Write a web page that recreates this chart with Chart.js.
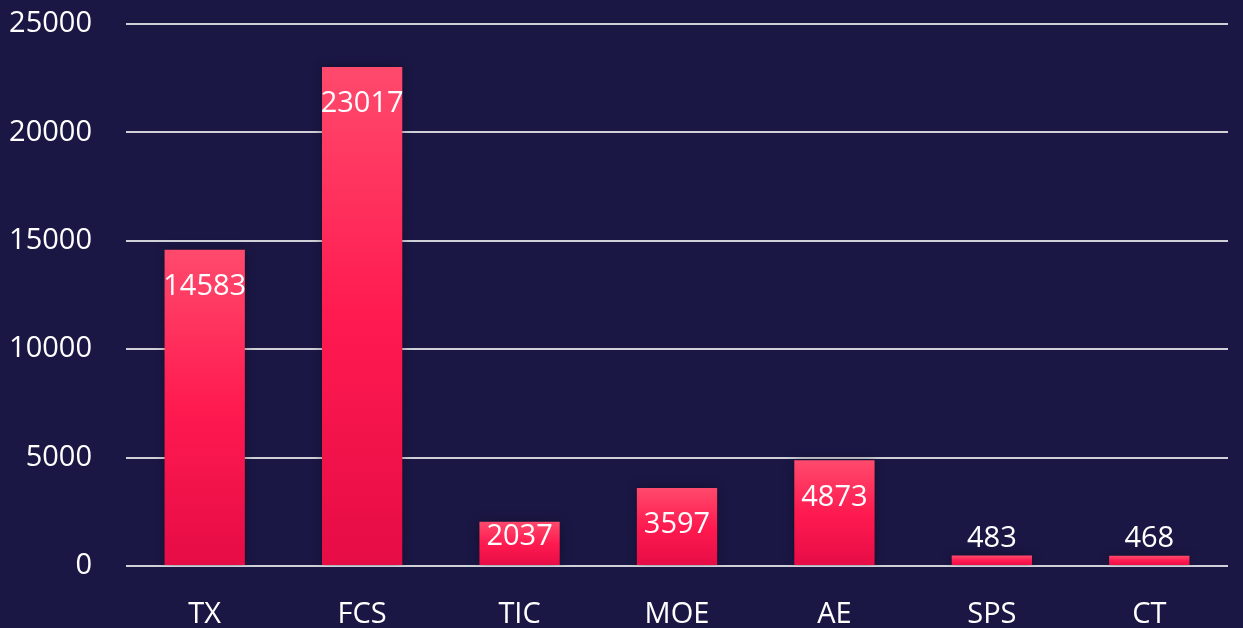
<!DOCTYPE html>
<html lang="en">
<head>
    <meta charset="UTF-8">
    <title>Bar chart</title>
    <style>
        html, body {
            margin: 0;
            padding: 0;
            overflow: hidden;
            background-color: #1b1745;
        }

        .chart-box {
            position: relative;
            width: 1243px;
            height: 628px;
        }
    </style>
</head>
<body>

<div class="chart-box">
    <canvas id="barChart"></canvas>
</div>

<script src="https://cdn.jsdelivr.net/npm/chart.js"></script>
<script>
    const categories = ['TX', 'FCS', 'TIC', 'MOE', 'AE', 'SPS', 'CT'];
    const counts = [14583, 23017, 2037, 3597, 4873, 483, 468];
    const yTicks = [0, 5000, 10000, 15000, 20000, 25000];

    const fontFamily = '"Open Sans", "Noto Sans", sans-serif';
    const fontSize = 29;

    // gradient per bar, from its own top down to the zero line
    function barGradient(context) {
        const chart = context.chart;
        const yScale = chart.scales.y;
        if (!chart.chartArea || !yScale) return '#ff1a50';
        const value = counts[context.dataIndex];
        const top = yScale.getPixelForValue(value);
        const bottom = yScale.getPixelForValue(0);
        const g = chart.ctx.createLinearGradient(0, top, 0, bottom);
        g.addColorStop(0, '#ff4a6c');
        g.addColorStop(0.5, '#ff1a50');
        g.addColorStop(1, '#e60c46');
        return g;
    }

    const barShadow = {
        id: 'barShadow',
        beforeDatasetDraw(chart) {
            const ctx = chart.ctx;
            ctx.save();
            ctx.shadowColor = 'rgba(0, 0, 0, 0.35)';
            ctx.shadowBlur = 10;
            ctx.shadowOffsetX = 0;
            ctx.shadowOffsetY = 0;
        },
        afterDatasetDraw(chart) {
            chart.ctx.restore();
        }
    };

    const valueLabels = {
        id: 'valueLabels',
        afterDatasetsDraw(chart) {
            const ctx = chart.ctx;
            const meta = chart.getDatasetMeta(0);
            ctx.save();
            ctx.font = fontSize + 'px ' + fontFamily;
            ctx.fillStyle = '#ffffff';
            ctx.textAlign = 'center';
            ctx.textBaseline = 'middle';
            meta.data.forEach((bar, i) => {
                const h = bar.base - bar.y;
                let y;
                if (h > 60) {
                    y = bar.y + 37;
                } else if (h > 30) {
                    y = bar.y + 15;
                } else {
                    y = bar.y - 17;
                }
                ctx.fillText(String(counts[i]), bar.x, y);
            });
            ctx.restore();
        }
    };

    const ctx = document.getElementById('barChart').getContext('2d');
    new Chart(ctx, {
        type: 'bar',
        data: {
            labels: categories,
            datasets: [{
                data: counts,
                backgroundColor: barGradient,
                borderWidth: 0,
                categoryPercentage: 1,
                barPercentage: 0.51
            }]
        },
        options: {
            responsive: true,
            maintainAspectRatio: false,
            animation: false,
            layout: {
                padding: { left: 8, right: 15, top: 24, bottom: 0 }
            },
            plugins: {
                legend: { display: false },
                tooltip: { enabled: false }
            },
            scales: {
                x: {
                    grid: { display: false, drawTicks: false },
                    border: { display: false },
                    afterFit(scale) {
                        scale.height = 62;
                        scale.paddingLeft = 0;
                        scale.paddingRight = 0;
                    },
                    ticks: {
                        color: '#ffffff',
                        padding: 31,
                        maxRotation: 0,
                        font: { family: fontFamily, size: fontSize }
                    }
                },
                y: {
                    min: 0,
                    max: 25000,
                    afterBuildTicks(axis) {
                        axis.ticks = yTicks.map(v => ({ value: v }));
                    },
                    afterFit(scale) {
                        scale.width = 118;
                        scale.paddingTop = 0;
                        scale.paddingBottom = 0;
                    },
                    grid: {
                        color: '#d0d0d8',
                        lineWidth: 2,
                        drawTicks: false
                    },
                    border: { display: false },
                    ticks: {
                        color: '#ffffff',
                        padding: 34,
                        callback: value => String(value),
                        font: { family: fontFamily, size: fontSize }
                    }
                }
            }
        },
        plugins: [barShadow, valueLabels]
    });
</script>

</body>
</html>
